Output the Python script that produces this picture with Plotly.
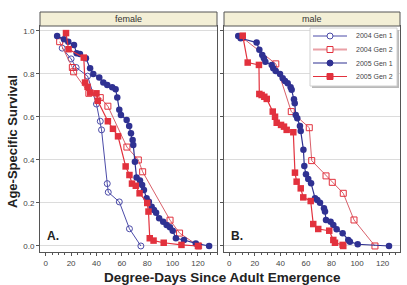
import plotly.graph_objects as go

# ---------------- data ----------------
f04g1_x = [13, 20, 24, 33, 40, 43, 44, 48.5, 49.3, 58, 66, 75]
f04g1_y = [0.92, 0.87, 0.83, 0.79, 0.66, 0.58, 0.54, 0.29, 0.25, 0.205, 0.08, 0.0]

f04g2_x = [11, 21, 22, 34, 43, 49, 64, 73, 76.4, 98, 105.5, 120.5]
f04g2_y = [0.95, 0.83, 0.81, 0.71, 0.69, 0.65, 0.46, 0.40, 0.345, 0.12, 0.06, 0.0]

f05g1_x = [9, 14.4, 17.8, 22.3, 24.4, 27, 31.7, 35, 37.5, 42.2, 45.4, 48.5, 52.4, 55.1,
           56.4, 58, 59.3, 63.8, 65.8, 67.2, 68.5, 69, 70.3, 71.6, 74.3, 76, 77.4, 79.5,
           81.3, 83.5, 85.3, 87, 89.4, 92.6, 95.3, 97.9, 100.1, 102.6, 109, 118.3, 128.8]
f05g1_y = [0.977, 0.961, 0.95, 0.935, 0.896, 0.893, 0.873, 0.826, 0.80, 0.783, 0.76, 0.749,
           0.738, 0.729, 0.69, 0.633, 0.609, 0.586, 0.558, 0.524, 0.493, 0.47, 0.392, 0.318,
           0.304, 0.284, 0.26, 0.222, 0.206, 0.183, 0.167, 0.155, 0.129, 0.113, 0.098, 0.087,
           0.071, 0.036, 0.028, 0.012, 0.0]

f05g2_x = [16, 18, 30, 31, 33, 35, 40, 41, 49, 53, 57, 63, 66, 68, 71, 74, 80, 81, 82,
           85, 93, 107, 120]
f05g2_y = [0.99, 0.915, 0.876, 0.76, 0.74, 0.713, 0.71, 0.675, 0.58, 0.545, 0.51, 0.37,
           0.33, 0.29, 0.28, 0.245, 0.20, 0.16, 0.036, 0.025, 0.015, 0.005, 0.0]

m04g2_x = [10, 36.4, 48.5, 62.6, 64.5, 75.7, 80.6, 89.2, 97.6, 114]
m04g2_y = [0.97, 0.847, 0.625, 0.55, 0.397, 0.326, 0.296, 0.245, 0.121, 0.0]

m05g1_x = [7, 8.9, 21.4, 23.5, 25.8, 27.1, 28.2, 33.2, 34.4, 36.3, 39.7, 41.8, 43.6, 45.7,
           48, 48.8, 50.6, 51.2, 52, 53.2, 55.3, 55.9, 58, 58.7, 60, 61.8, 64, 67.1, 68.9,
           71, 74.1, 74.9, 75.7, 79.3, 81.4, 84, 88.7, 93.1, 94.4, 100.5, 125]
m05g1_y = [0.977, 0.966, 0.946, 0.912, 0.888, 0.873, 0.857, 0.842, 0.826, 0.814, 0.80,
           0.78, 0.767, 0.757, 0.738, 0.726, 0.682, 0.664, 0.609, 0.594, 0.558, 0.535, 0.448,
           0.372, 0.333, 0.312, 0.292, 0.222, 0.214, 0.201, 0.175, 0.16, 0.121, 0.113, 0.098,
           0.078, 0.059, 0.028, 0.02, 0.008, 0.0]

m05g2_x = [10.5, 14.4, 23.2, 23.5, 25.3, 27.4, 29.3, 34, 35.8, 37.1, 40.5, 42.8, 44.9,
           50.1, 51.4, 52.7, 55.9, 57.9, 63.7, 65.7, 69.6, 78.2, 81.4, 82.7, 88.7, 89.2]
m05g2_y = [0.978, 0.853, 0.842, 0.707, 0.702, 0.694, 0.684, 0.625, 0.601, 0.573, 0.563,
           0.555, 0.54, 0.529, 0.341, 0.299, 0.268, 0.226, 0.209, 0.102, 0.079, 0.071, 0.028,
           0.015, 0.005, 0.0]

series_names = ["2004 Gen 1", "2004 Gen 2", "2005 Gen 1", "2005 Gen 2"]
panel_titles = ["female", "male"]
panel_letters = ["A.", "B."]
x_ticks = [0, 20, 40, 60, 80, 100, 120]
y_ticks = [0.0, 0.2, 0.4, 0.6, 0.8, 1.0]

# ---------------- styles ----------------
BLUE = "#2f3192"
BLUE_L = "#4b4ba8"
RED = "#e2313d"
RED_L = "#d9606a"
FONT = "Liberation Sans, Arial"

styles = {
    "2004 Gen 1": dict(mode="lines+markers", line=dict(color=BLUE_L, width=1),
                       marker=dict(symbol="circle-open", size=6, color=BLUE_L, line=dict(width=1))),
    "2004 Gen 2": dict(mode="lines+markers", line=dict(color=RED_L, width=1),
                       marker=dict(symbol="square-open", size=6, color=RED, line=dict(width=1))),
    "2005 Gen 1": dict(mode="lines+markers", line=dict(color=BLUE, width=1.2),
                       marker=dict(symbol="circle", size=6.5, color=BLUE)),
    "2005 Gen 2": dict(mode="lines+markers", line=dict(color=RED, width=1.2),
                       marker=dict(symbol="square", size=6.5, color=RED)),
}

fig = go.Figure()
panels = [
    ("x", "y", [("2004 Gen 1", f04g1_x, f04g1_y), ("2004 Gen 2", f04g2_x, f04g2_y),
                ("2005 Gen 1", f05g1_x, f05g1_y), ("2005 Gen 2", f05g2_x, f05g2_y)]),
    ("x2", "y2", [("2004 Gen 2", m04g2_x, m04g2_y),
                  ("2005 Gen 1", m05g1_x, m05g1_y), ("2005 Gen 2", m05g2_x, m05g2_y)]),
]
for pi, (xa, ya, series) in enumerate(panels):
    for name, xs, ys in series:
        fig.add_trace(go.Scatter(x=xs, y=ys, name=name, xaxis=xa, yaxis=ya,
                                 legendgroup=name, showlegend=False, **styles[name]))

W, H = 407, 285
ml, mr, mt, mb = 40, 7, 26, 33
pw = W - ml - mr
ph = H - mt - mb
d1 = [0, 177 / pw]
d2 = [184 / pw, 1]


def PX(px):
    return (px - ml) / pw


def PY(py):
    return (H - mb - py) / ph


axis_common = dict(showline=True, linecolor="#555", linewidth=1, mirror=True,
                   ticks="outside", ticklen=3, tickcolor="#555",
                   tickfont=dict(family=FONT, size=8, color="#444"),
                   zeroline=False)
xcommon = dict(axis_common, tickvals=x_ticks, showgrid=False,
               minor=dict(dtick=5, tick0=0, ticks="outside", ticklen=2, tickcolor="#555"))
ycommon = dict(axis_common, tickvals=y_ticks, ticktext=[f"{v:.1f}" for v in y_ticks],
               showgrid=True, gridcolor="#dcdcdc", gridwidth=1, range=[-0.028, 1.023])

fig.update_layout(
    width=W, height=H, margin=dict(l=ml, r=mr, t=mt, b=mb),
    paper_bgcolor="white", plot_bgcolor="white",
    xaxis=dict(xcommon, domain=d1, range=[-4.5, 135], anchor="y"),
    xaxis2=dict(xcommon, domain=d2, range=[-4.15, 133.6], anchor="y2"),
    yaxis=dict(ycommon, domain=[0, 1], anchor="x"),
    yaxis2=dict(ycommon, domain=[0, 1], anchor="x2", showticklabels=False),
    showlegend=False,
)

shapes = []
annotations = []
for d, title, letter, xd in [(d1, panel_titles[0], panel_letters[0], "x domain"),
                              (d2, panel_titles[1], panel_letters[1], "x2 domain")]:
    shapes.append(dict(type="rect", xref="paper", yref="paper", x0=d[0], x1=d[1],
                       y0=1.0, y1=PY(12), fillcolor="#f3efd6",
                       line=dict(color="#555", width=1), layer="above"))
    annotations.append(dict(text=title, xref="paper", yref="paper", x=(d[0] + d[1]) / 2,
                            y=PY(19), showarrow=False, xanchor="center", yanchor="middle",
                            font=dict(family=FONT, size=9, color="#333")))
    annotations.append(dict(text=f"<b>{letter}</b>", xref=xd, yref="paper", x=0.03, y=0.03,
                            showarrow=False, xanchor="left", yanchor="bottom",
                            font=dict(family=FONT, size=12, color="#222")))

# ---- legend box (drawn in the male panel, top right) ----
LX0, LX1, LY0, LY1 = 310, 397, 28, 86
shapes.append(dict(type="rect", xref="paper", yref="paper", x0=PX(LX0 + 2), x1=PX(LX1 + 2),
                   y0=PY(LY1 + 2), y1=PY(LY0 + 2), fillcolor="#b9b9b9",
                   line=dict(width=0), layer="above"))
shapes.append(dict(type="rect", xref="paper", yref="paper", x0=PX(LX0), x1=PX(LX1),
                   y0=PY(LY1), y1=PY(LY0), fillcolor="white",
                   line=dict(color="#d0d0d0", width=1), layer="above"))
legend_line = {"2004 Gen 1": (BLUE_L, 1), "2004 Gen 2": ("#eaa0a6", 2),
               "2005 Gen 1": (BLUE, 1.2), "2005 Gen 2": (RED, 1.2)}
legend_marker = {"2004 Gen 1": ("circle", "white", BLUE_L),
                 "2004 Gen 2": ("rect", "white", RED),
                 "2005 Gen 1": ("circle", BLUE, BLUE),
                 "2005 Gen 2": ("rect", RED, RED)}
for i, name in enumerate(series_names):
    yy = 36 + i * 13.5
    lc, lw = legend_line[name]
    shapes.append(dict(type="line", xref="paper", yref="paper", x0=PX(313), x1=PX(347),
                       y0=PY(yy), y1=PY(yy), line=dict(color=lc, width=lw), layer="above"))
    kind, fc, ec = legend_marker[name]
    r = 3
    shapes.append(dict(type=kind, xref="paper", yref="paper", x0=PX(330 - r), x1=PX(330 + r),
                       y0=PY(yy + r), y1=PY(yy - r), fillcolor=fc,
                       line=dict(color=ec, width=1), layer="above"))
    annotations.append(dict(text=name, xref="paper", yref="paper", x=PX(354), y=PY(yy),
                            showarrow=False, xanchor="left", yanchor="middle",
                            font=dict(family=FONT, size=7, color="#444")))

annotations.append(dict(text="<b>Age-Specific Survival</b>", xref="paper", yref="paper",
                        x=PX(12), y=PY(142), textangle=-90, showarrow=False,
                        xanchor="center", yanchor="middle",
                        font=dict(family=FONT, size=13, color="#222")))
annotations.append(dict(text="<b>Degree-Days Since Adult Emergence</b>", xref="paper",
                        yref="paper", x=PX(222), y=PY(277), showarrow=False,
                        xanchor="center", yanchor="middle",
                        font=dict(family=FONT, size=13.5, color="#222")))

fig.update_layout(shapes=shapes, annotations=annotations)
fig.write_html("out.html", config={"displayModeBar": False},
               post_script="document.body.style.margin='0';")
